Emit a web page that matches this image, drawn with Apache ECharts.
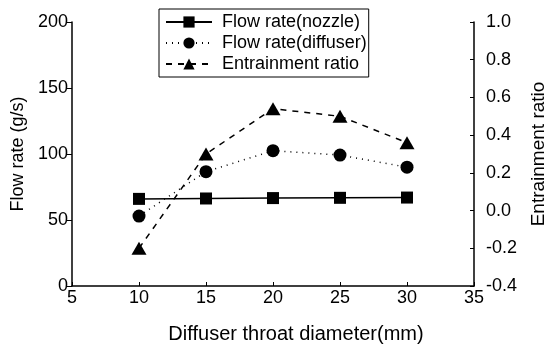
<!DOCTYPE html>
<html>
<head>
<meta charset="utf-8">
<script src="https://cdn.jsdelivr.net/npm/echarts@6/dist/echarts.min.js"></script>
<style>html,body{margin:0;padding:0;background:#fff}#c{width:546px;height:345px}</style>
</head>
<body>
<div id="c"></div>
<script>
const throatDiameter = [10, 15, 20, 25, 30];
const flowNozzle = [66, 66.3, 66.6, 66.8, 67];
const flowDiffuser = [53, 86.6, 102.5, 99.2, 90];
const entrainmentRatio = [-0.2, 0.3, 0.54, 0.5, 0.36];
const seriesNames = ['Flow rate(nozzle)', 'Flow rate(diffuser)', 'Entrainment ratio'];
const xTitle = 'Diffuser throat diameter(mm)';
const yLeftTitle = 'Flow rate (g/s)';
const yRightTitle = 'Entrainment ratio';

const F = 'Liberation Sans, Arial, sans-serif';
const pair = (xs, ys) => xs.map((x, i) => [x, ys[i]]);
const chart = echarts.init(document.getElementById('c'), null, {renderer: 'canvas'});
const axisLine = {show: true, onZero: false, lineStyle: {color: '#000', width: 1.5}};
chart.setOption({
  animation: false,
  backgroundColor: '#fff',
  grid: {left: 72, right: 72, top: 22, bottom: 59, containLabel: false, outerBoundsMode: 'none'},
  legend: {
    orient: 'vertical', left: 159, top: 9,
    data: seriesNames,
    itemWidth: 46, itemHeight: 14, itemGap: 3,
    padding: [4, 2, 4, 6],
    borderColor: '#000', borderWidth: 1,
    textStyle: {fontFamily: F, fontSize: 18, color: '#000', padding: [0, 0, 0, 5]}
  },
  xAxis: {
    type: 'value', min: 5, max: 35, interval: 5,
    name: xTitle, nameLocation: 'middle', nameGap: 38,
    nameTextStyle: {fontFamily: F, fontSize: 20, color: '#000', padding: [0, 0, 0, 46], letterSpacing: 1.2},
    axisLine: axisLine,
    axisTick: {show: true, inside: true, length: 4, lineStyle: {color: '#000'}},
    axisLabel: {fontFamily: F, fontSize: 18, color: '#000', margin: 3},
    splitLine: {show: false}
  },
  yAxis: [{
    type: 'value', min: 0, max: 200, interval: 50, position: 'left',
    name: yLeftTitle, nameLocation: 'middle', nameGap: 39, nameRotate: 90,
    nameTextStyle: {fontFamily: F, fontSize: 18, color: '#000'},
    axisLine: axisLine,
    axisTick: {show: true, inside: false, length: 5, lineStyle: {color: '#000'}},
    axisLabel: {fontFamily: F, fontSize: 18, color: '#000', margin: 4},
    splitLine: {show: false}
  }, {
    type: 'value', min: -0.4, max: 1.0, interval: 0.2, position: 'right',
    name: yRightTitle, nameLocation: 'middle', nameGap: 55, nameRotate: 90,
    nameTextStyle: {fontFamily: F, fontSize: 19, color: '#000'},
    axisLine: axisLine,
    axisTick: {show: true, inside: true, length: 4, lineStyle: {color: '#000'}},
    axisLabel: {fontFamily: F, fontSize: 18, color: '#000', margin: 12,
      formatter: v => v.toFixed(1)},
    splitLine: {show: false}
  }],
  series: [{
    name: seriesNames[0], type: 'line', yAxisIndex: 0,
    data: pair(throatDiameter, flowNozzle),
    symbol: 'rect', symbolSize: 12,
    itemStyle: {color: '#000'},
    lineStyle: {color: '#000', width: 1.5, type: 'solid'}
  }, {
    name: seriesNames[1], type: 'line', yAxisIndex: 0,
    data: pair(throatDiameter, flowDiffuser),
    symbol: 'circle', symbolSize: 13,
    itemStyle: {color: '#000'},
    lineStyle: {color: '#000', width: 1.5, type: [1, 5]}
  }, {
    name: seriesNames[2], type: 'line', yAxisIndex: 1,
    data: pair(throatDiameter, entrainmentRatio),
    symbol: 'triangle', symbolSize: [15, 13],
    itemStyle: {color: '#000'},
    lineStyle: {color: '#000', width: 1.5, type: [6, 6]}
  }]
});
</script>
</body>
</html>
